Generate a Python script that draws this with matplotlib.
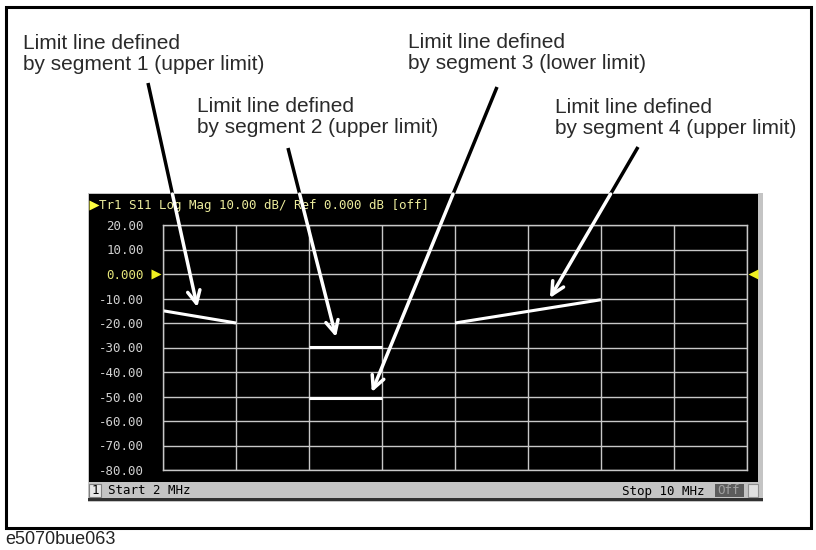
import matplotlib
matplotlib.use('Agg')  # no display
import matplotlib.pyplot as plt
from matplotlib.patches import Rectangle

# sweep 2..10 MHz, 10 dB/div, ref 0 dB
freq_ticks = [2, 3, 4, 5, 6, 7, 8, 9, 10]
db_ticks = [20, 10, 0, -10, -20, -30, -40, -50, -60, -70, -80]
db_labels = ['20.00', '10.00', '0.000', '-10.00', '-20.00', '-30.00',
             '-40.00', '-50.00', '-60.00', '-70.00', '-80.00']

# limit line segments (MHz, dB)
seg1_freq = [2, 3]
seg1_db = [-15, -20]
seg2_freq = [4, 5]
seg2_db = [-29.6, -29.6]
seg3_freq = [4, 5]
seg3_db = [-50.6, -50.6]
seg4_freq = [6, 8]
seg4_db = [-20, -10.5]

callout_texts = ['Limit line defined\nby segment 1 (upper limit)',
                 'Limit line defined\nby segment 2 (upper limit)',
                 'Limit line defined\nby segment 3 (lower limit)',
                 'Limit line defined\nby segment 4 (upper limit)']
callout_targets = [(2.47, -13.5), (4.37, -25.7), (4.86, -48.2), (7.30, -9.8)]

W, H = 816, 550
fig = plt.figure(figsize=(W / 100, H / 100), dpi=100)
fig.patch.set_facecolor('white')

# pixel canvas for the page furniture
canvas = fig.add_axes([0, 0, 1, 1], zorder=0)
canvas.set_xlim(0, W)
canvas.set_ylim(H, 0)
canvas.axis('off')

# instrument grid area
gl, gr, gt, gb = 163, 747, 225, 470
ax = fig.add_axes([gl / W, 1 - gb / H, (gr - gl) / W, (gb - gt) / H], zorder=1)
ax.set_facecolor('none')

top = fig.add_axes([0, 0, 1, 1], zorder=2)
top.set_xlim(0, W)
top.set_ylim(H, 0)
top.axis('off')
top.patch.set_alpha(0)

# outer frame
canvas.add_patch(Rectangle((6, 7), 805, 521, fill=False, ec='black', lw=2.2))
canvas.text(5, 539, 'e5070bue063', fontsize=13, family='Liberation Sans',
            color='#222222', va='center', ha='left')

# screen
canvas.add_patch(Rectangle((88, 193), 675, 309, fc='#c4c4c4', ec='none'))
canvas.add_patch(Rectangle((89, 194), 669, 288, fc='black', ec='none'))
canvas.add_patch(Rectangle((88, 498), 675, 3, fc='#303030', ec='none'))
canvas.add_patch(Rectangle((89, 484), 12, 13, fc='#e6e6e6', ec='#808080', lw=0.8))
canvas.add_patch(Rectangle((715, 484), 29, 13, fc='#5c5c5c', ec='none'))
canvas.add_patch(Rectangle((748, 484), 10, 13, fc='#e0e0e0', ec='#909090', lw=0.8))
mono = 'DejaVu Sans Mono'
canvas.text(95, 491, '1', family=mono, fontsize=9, color='black', ha='center', va='center')
canvas.text(108, 491, 'Start 2 MHz', family=mono, fontsize=9, color='black', va='center')
canvas.text(705, 491, 'Stop 10 MHz', family=mono, fontsize=9, color='black', ha='right', va='center')
canvas.text(729, 491, 'Off', family=mono, fontsize=9, color='#a0a0a0', ha='center', va='center')
canvas.plot([94], [205], marker='>', ms=7, color='#ffff40', mec='none')
canvas.text(99, 205, 'Tr1 S11 Log Mag 10.00 dB/ Ref 0.000 dB [off]', family=mono,
            fontsize=9, color='#ecec9c', va='center')

# grid and limit lines
grid_c = '#c8c8c8'
ax.set_xlim(freq_ticks[0], freq_ticks[-1])
ax.set_ylim(db_ticks[-1], db_ticks[0])
ax.set_xticks(freq_ticks)
ax.set_yticks(db_ticks)
ax.set_yticklabels(db_labels, family=mono, fontsize=9, color='#d0d0d0')
ax.get_yticklabels()[2].set_color('#e6e67a')
ax.tick_params(axis='x', length=0, labelbottom=False)
ax.tick_params(axis='y', length=0, pad=14)
ax.grid(True, color=grid_c, lw=1)
for s in ax.spines.values():
    s.set_color(grid_c)
    s.set_linewidth(1)

for f, d in [(seg1_freq, seg1_db), (seg2_freq, seg2_db),
             (seg3_freq, seg3_db), (seg4_freq, seg4_db)]:
    ax.plot(f, d, color='white', lw=2.2, solid_capstyle='butt')

# reference position markers
ax.plot([-0.012], [0], marker='>', ms=7, color='#f0f020', mec='none',
        transform=ax.get_yaxis_transform(), clip_on=False)
ax.plot([1.01], [0], marker='<', ms=7, color='#f0f020', mec='none',
        transform=ax.get_yaxis_transform(), clip_on=False)

# callouts
text_pos = [(23, 54), (197, 117), (408, 53), (555, 118)]
arrow_start = [(148, 83), (288, 148), (497, 87), (638, 147)]
screen_top = 194
to_px = canvas.transData.inverted()
for txt, (tx, ty), (sx, sy), tgt in zip(callout_texts, text_pos, arrow_start, callout_targets):
    canvas.text(tx, ty, txt, fontsize=15, family='Liberation Sans', color='#2a2a2a',
                va='center', ha='left', linespacing=1.17)
    ex, ey = to_px.transform(ax.transData.transform(tgt))
    t = (screen_top - sy) / (ey - sy)
    cx = sx + t * (ex - sx)
    canvas.plot([sx, cx], [sy, screen_top], color='black', lw=2.5, solid_capstyle='butt')
    top.annotate('', xy=(ex, ey), xytext=(cx, screen_top),
                 arrowprops=dict(arrowstyle='->,head_length=0.6,head_width=0.3',
                                 color='white', lw=2.5, shrinkA=0, shrinkB=0,
                                 mutation_scale=15))

fig.savefig('out.png', dpi=100)
plt.close(fig)
